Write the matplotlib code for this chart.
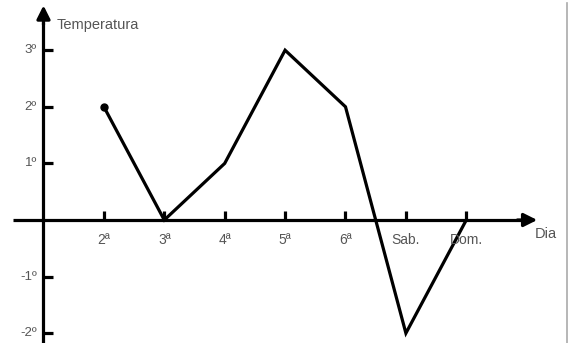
import matplotlib
matplotlib.use("Agg")
import matplotlib.pyplot as plt
from matplotlib.lines import Line2D

plt.rcParams['font.family'] = ['Liberation Sans', 'DejaVu Sans']

# dados
dias = ['2ª', '3ª', '4ª', '5ª', '6ª', 'Sab.', 'Dom.']
temperatura = [2, 0, 1, 3, 2, -2, 0]
y_ticks = [3, 2, 1, -1, -2]
y_labels = ['3º', '2º', '1º', '-1º', '-2º']

pos = list(range(1, len(dias) + 1))

fig = plt.figure(figsize=(5.72, 3.43), dpi=100)
ax = fig.add_axes([0, 0, 1, 1])
ax.set_xlim(-0.72, 8.75)
ax.set_ylim(-2.173, 3.887)
ax.axis('off')

lw = 2.3
txt_color = '#555555'

# eixos com setas
ax.plot([0, 0], [-2.3, 3.5], color='black', lw=lw, solid_capstyle='butt')
ax.annotate('', xy=(0, 3.84), xytext=(0, 3.4),
            arrowprops=dict(arrowstyle='-|>', lw=lw, color='black', mutation_scale=20))
ax.plot([-0.5, 7.9], [0, 0], color='black', lw=lw, solid_capstyle='butt')
ax.annotate('', xy=(8.22, 0), xytext=(7.8, 0),
            arrowprops=dict(arrowstyle='-|>', lw=lw, color='black', mutation_scale=20))

# marcas
for v, lab in zip(y_ticks, y_labels):
    ax.plot([0, 0.15], [v, v], color='black', lw=lw, solid_capstyle='butt')
    ax.text(-0.11, v, lab, ha='right', va='center', fontsize=9.5, color=txt_color)
for p, lab in zip(pos, dias):
    ax.plot([p, p], [0, 0.16], color='black', lw=lw, solid_capstyle='butt')
    ax.text(p, -0.36, lab, ha='center', va='center', fontsize=10, color=txt_color)

ax.text(0.22, 3.45, 'Temperatura', ha='left', va='center', fontsize=10.5, color=txt_color)
ax.text(8.14, -0.25, 'Dia', ha='left', va='center', fontsize=10.5, color=txt_color)

# linha
ax.plot(pos, temperatura, color='black', lw=lw, solid_joinstyle='miter')
ax.plot(pos[0], temperatura[0], 'o', color='black', markersize=5)

# borda direita
fig.add_artist(Line2D([567 / 572, 567 / 572], [0, 1 - 3 / 343],
                      transform=fig.transFigure, color='#aaaaaa', lw=1.2))

fig.savefig('out.png', dpi=100)
